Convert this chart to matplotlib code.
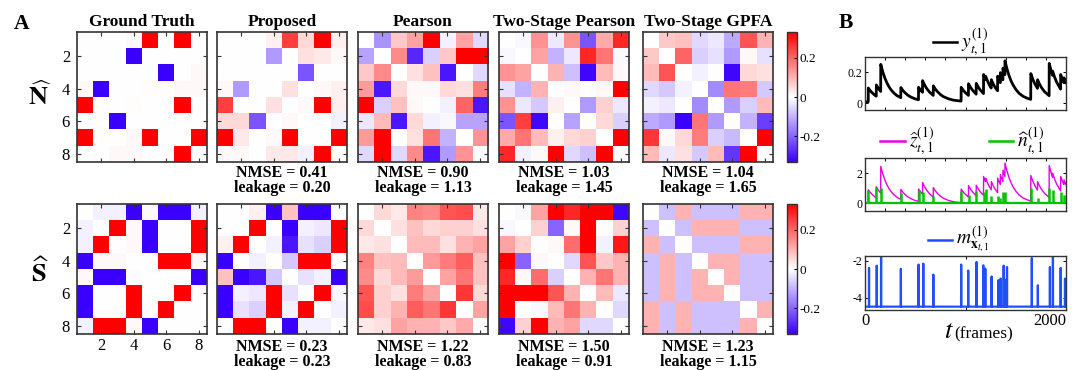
import numpy as np
import matplotlib.pyplot as plt
from matplotlib.colors import LinearSegmentedColormap
from matplotlib.lines import Line2D

plt.rcParams['font.family'] = ['Liberation Serif', 'DejaVu Serif']
plt.rcParams['mathtext.fontset'] = 'stix'
plt.rcParams['axes.unicode_minus'] = False

# saturated entries (beyond the colour limit)
R, B = 0.4, -0.4

titles = ['Ground Truth', 'Proposed', 'Pearson', 'Two-Stage Pearson', 'Two-Stage GPFA']
nmse_N = [None, 0.41, 0.90, 1.03, 1.04]
leak_N = [None, 0.20, 1.13, 1.45, 1.65]
nmse_S = [None, 0.23, 1.22, 1.50, 1.23]
leak_S = [None, 0.23, 0.83, 0.91, 1.15]

N_truth = [
    [0, 0, 0, 0.01, R, 0, R, 0],
    [0, 0, 0, B, 0, 0, 0, 0],
    [0, 0, 0, 0, 0, B, 0, 0.01],
    [0.01, B, 0, 0, 0.005, 0, 0.01, 0.01],
    [R, 0, 0, 0.005, 0, 0, R, 0],
    [0, 0, B, 0, 0, 0, 0, 0],
    [R, 0, 0, 0.01, R, 0, 0, R],
    [0, 0, 0.01, 0.01, 0, 0, R, 0],
]
N_prop = [
    [0, 0, 0, 0.02, 0.25, 0.05, R, 0.02],
    [0, 0, 0, -0.13, 0, 0.04, 0.03, 0.01],
    [0, 0, 0, 0, 0, -0.22, 0, 0],
    [0.01, -0.13, 0, 0, 0.04, 0, 0.01, 0.02],
    [0.25, 0, 0, 0.04, 0, 0.01, R, 0.02],
    [0.05, 0.05, -0.22, 0, 0.01, 0, 0, -0.02],
    [R, 0.03, 0, 0.01, R, 0, 0, R],
    [0.01, 0.01, 0, 0.03, 0.03, -0.02, R, 0],
]
N_pear = [
    [0, -0.14, 0.07, 0.12, R, -0.02, 0.12, -0.05],
    [-0.12, 0, 0.15, -0.28, -0.06, 0.07, R, R],
    [0.07, 0.15, 0, 0.04, 0.08, -0.3, 0, -0.05],
    [0.13, -0.3, 0.05, 0.01, 0.01, 0.05, 0.04, 0.17],
    [R, -0.06, 0.08, 0.01, 0, -0.02, 0.2, -0.3],
    [-0.03, 0.09, -0.3, 0.05, -0.02, -0.01, -0.12, -0.12],
    [0.13, R, 0, 0.04, 0.18, -0.1, 0, 0.14],
    [-0.05, R, -0.05, 0.15, -0.3, -0.13, 0.14, 0],
]
N_tsp = [
    [0, -0.01, 0.14, -0.03, 0.14, -0.22, 0.11, 0.28],
    [-0.01, 0, 0.12, -0.1, -0.03, 0.28, 0.18, -0.01],
    [0.14, 0.12, 0, 0.1, -0.08, -0.32, 0.09, 0.01],
    [-0.04, -0.1, 0.1, 0, 0.01, 0, 0.01, R],
    [0.14, -0.03, -0.07, 0.02, 0, -0.13, 0.06, -0.03],
    [-0.22, 0.25, -0.32, 0, -0.12, 0, 0.05, -0.06],
    [0.11, 0.18, 0.09, 0.02, 0.05, 0.06, 0, R],
    [0.28, -0.02, 0.01, R, -0.05, -0.08, R, 0],
]
N_gpfa = [
    [0, 0.07, 0.08, -0.05, -0.03, -0.11, 0.22, 0.1],
    [0.07, 0, 0.2, -0.06, -0.04, -0.13, 0.01, -0.04],
    [0.09, 0.22, 0, -0.02, 0, -0.32, 0.05, 0.04],
    [-0.05, -0.07, -0.02, 0, -0.15, 0.18, 0.17, -0.07],
    [-0.02, -0.03, 0, -0.15, 0, -0.13, -0.06, 0.09],
    [-0.11, -0.13, -0.33, 0.18, -0.13, 0, -0.1, -0.25],
    [0.26, 0.01, 0.05, 0.17, -0.06, -0.09, 0, R],
    [0.09, -0.03, 0.04, -0.07, 0.09, -0.26, R, 0],
]

S_truth = [
    [0, -0.02, -0.02, B, 0.01, B, B, -0.02],
    [-0.02, 0, R, 0.01, B, 0, 0, R],
    [-0.02, R, 0, 0.01, B, 0, 0, R],
    [B, 0.01, 0.01, 0, 0, R, R, 0.01],
    [0.01, B, B, -0.005, 0, 0, 0, B],
    [B, 0, 0, R, 0, 0, R, 0],
    [B, 0, 0, R, 0, R, 0, 0],
    [-0.02, R, R, 0.01, B, 0, 0, 0],
]
S_prop = [
    [0, 0, 0.02, B, 0.08, B, B, 0],
    [0, 0, R, 0, B, -0.02, -0.03, R],
    [0.02, R, 0, -0.02, -0.3, -0.04, -0.06, R],
    [B, 0, -0.02, 0, -0.07, R, R, 0],
    [0.08, B, -0.3, -0.07, 0, -0.04, -0.02, B],
    [B, -0.02, -0.03, R, -0.04, 0, R, -0.01],
    [B, -0.04, -0.06, R, -0.02, R, 0, -0.02],
    [0, R, R, 0, B, -0.02, -0.02, 0],
]
S_pear = [
    [0, 0.05, 0.03, 0.16, 0.15, 0.22, 0.23, 0.03],
    [0.05, 0, 0.04, 0.08, 0.05, 0.06, 0.06, 0.04],
    [0.03, 0.04, 0, 0.09, 0.09, 0.04, 0.1, 0.12],
    [0.16, 0.08, 0.09, 0, 0.13, 0.17, 0.21, 0.08],
    [0.15, 0.05, 0.09, 0.13, 0, 0.12, 0.18, 0.08],
    [0.22, 0.06, 0.04, 0.17, 0.12, 0, 0.26, 0.05],
    [0.23, 0.06, 0.1, 0.21, 0.18, 0.26, 0, 0.12],
    [0.03, 0.04, 0.12, 0.1, 0.1, 0.07, 0.11, 0],
]
S_tsp = [
    [0, -0.01, 0.12, R, 0.28, R, R, -0.32],
    [-0.01, 0, 0.06, -0.2, 0.01, R, 0, 0.06],
    [0.12, 0.06, 0, 0.01, 0.19, R, -0.02, 0.3],
    [R, -0.2, 0.01, 0, -0.05, 0.22, 0.07, 0.1],
    [0.28, 0.01, 0.19, -0.06, 0, 0.1, 0.18, 0.1],
    [R, R, R, 0.22, 0.1, 0, 0.09, -0.03],
    [R, 0, -0.01, 0.09, 0.18, 0.1, 0, -0.05],
    [-0.32, 0.06, R, 0.1, 0.12, -0.05, -0.05, 0],
]
S_gpfa = [
    [0, -0.08, 0.1, -0.08, -0.08, -0.08, 0.1, 0.1],
    [-0.08, 0, -0.08, 0.1, 0.1, 0.1, -0.08, -0.08],
    [0.1, -0.08, 0, -0.08, -0.08, -0.08, 0.1, 0.1],
    [-0.08, 0.1, -0.08, 0, 0.1, 0.1, -0.08, -0.08],
    [-0.08, 0.1, -0.08, 0.1, 0, 0.1, -0.08, -0.08],
    [-0.08, 0.1, -0.08, 0.1, 0.1, 0, -0.08, -0.08],
    [0.1, -0.08, 0.1, -0.08, -0.08, -0.08, 0, 0.1],
    [0.1, -0.08, 0.1, -0.08, -0.08, -0.08, 0.1, 0],
]

# neuron 1 traces (frames / values)
trace_t = [0, 32, 33, 53, 73, 93, 112, 113, 133, 156, 157, 177, 197, 217, 237, 257,
           287, 317, 356, 357, 377, 397, 427, 457, 497, 532, 533, 553, 572, 573, 593,
           613, 643, 679, 680, 700, 720, 750, 780, 830, 880, 956, 957, 977, 997, 1029,
           1030, 1050, 1070, 1106, 1107, 1127, 1147, 1179, 1180, 1199, 1200, 1220, 1240,
           1256, 1257, 1277, 1297, 1319, 1320, 1346, 1347, 1372, 1373, 1392, 1393, 1413,
           1433, 1453, 1473, 1503, 1533, 1573, 1613, 1649, 1650, 1670, 1690, 1716, 1717,
           1737, 1757, 1787, 1832, 1833, 1853, 1866, 1867, 1887, 1907, 1946, 1947, 1967,
           1979, 1980, 2000]
z_vals = [0.0, 0.0, 0.9, 0.72, 0.58, 0.46, 0.37, 1.1, 0.88, 0.68, 2.44, 1.95, 1.56, 1.25,
          1.0, 0.8, 0.58, 0.41, 0.27, 0.93, 0.74, 0.6, 0.43, 0.31, 0.2, 0.14, 0.95, 0.76,
          0.62, 1.38, 1.1, 0.88, 0.63, 0.42, 1.04, 0.83, 0.67, 0.48, 0.34, 0.2, 0.11, 0.05,
          0.95, 0.76, 0.61, 0.42, 1.18, 0.94, 0.76, 0.50, 1.2, 0.96, 0.77, 0.54, 1.78, 1.45,
          1.67, 1.34, 1.07, 0.90, 1.44, 1.15, 0.92, 0.72, 1.67, 1.25, 1.9, 1.44, 2.2, 1.77,
          2.67, 2.14, 1.71, 1.37, 1.1, 0.79, 0.56, 0.36, 0.24, 0.16, 1.84, 1.47, 1.18, 0.88,
          1.44, 1.15, 0.92, 0.66, 0.40, 2.5, 2.0, 1.73, 2.0, 1.6, 1.28, 0.83, 1.78, 1.42,
          1.25, 1.56, 1.25]
y_vals = [0.008, 0.008, 0.098, 0.080, 0.066, 0.054, 0.045, 0.118, 0.096, 0.076, 0.252,
          0.203, 0.164, 0.133, 0.108, 0.088, 0.066, 0.049, 0.035, 0.101, 0.082, 0.068,
          0.051, 0.039, 0.028, 0.022, 0.103, 0.084, 0.070, 0.146, 0.118, 0.096, 0.071,
          0.050, 0.112, 0.091, 0.075, 0.056, 0.042, 0.028, 0.019, 0.013, 0.103, 0.084,
          0.069, 0.050, 0.126, 0.102, 0.084, 0.058, 0.128, 0.104, 0.085, 0.062, 0.186,
          0.153, 0.175, 0.142, 0.115, 0.098, 0.152, 0.123, 0.100, 0.080, 0.175, 0.133,
          0.198, 0.152, 0.228, 0.185, 0.275, 0.222, 0.179, 0.145, 0.118, 0.087, 0.064,
          0.044, 0.032, 0.024, 0.192, 0.155, 0.126, 0.096, 0.152, 0.123, 0.100, 0.074,
          0.048, 0.258, 0.208, 0.181, 0.208, 0.168, 0.136, 0.091, 0.186, 0.150, 0.133,
          0.164, 0.133]

spike_t = [33, 113, 157, 357, 533, 573, 680, 957, 1030, 1107, 1180, 1200, 1257, 1320,
           1347, 1373, 1393, 1650, 1717, 1833, 1867, 1947, 1980]
spike_n = [0.89, 1.11, 1.04, 0.67, 0.89, 0.78, 0.51, 0.82, 0.56, 0.82, 0.78, 0.96, 0.51,
           0.51, 0.38, 0.78, 0.78, 1.0, 0.33, 1.0, 0.89, 0.78, 0.56]

m_t = [40, 117, 160, 357, 533, 580, 680, 957, 1027, 1110, 1177, 1197, 1260, 1327, 1350,
       1380, 1397, 1413, 1660, 1720, 1840, 1870, 1947, 1990]
m_peak = [-2.39, -2.27, -1.77, -2.44, -2.21, -2.16, -2.75, -2.21, -2.53, -2.07, -2.25,
          -2.43, -2.85, -3.05, -2.96, -2.27, -3.03, -2.34, -1.86, -3.32, -2.34, -1.77,
          -2.39, -2.96]
m_base = -4.47

W, H = 1081, 370


def box(x0, y0, x1, y1):
    return [x0 / W, 1 - y1 / H, (x1 - x0) / W, (y1 - y0) / H]


def fx(x):
    return x / W


def fy(y):
    return 1 - y / H


fig = plt.figure(figsize=(W / 100, H / 100), dpi=100)

cmap = LinearSegmentedColormap.from_list('blue_white_red', ['#3a00ff', '#ffffff', '#ff0000'])
clim = 0.33
frame_col = '#333333'

col_x = [77, 217, 358, 499, 643]
row_y = [32, 204]
mats = [[N_truth, N_prop, N_pear, N_tsp, N_gpfa],
        [S_truth, S_prop, S_pear, S_tsp, S_gpfa]]
stats = [(nmse_N, leak_N), (nmse_S, leak_S)]
stat_top = [165, 339]

for r in range(2):
    for c in range(5):
        x0, y0 = col_x[c], row_y[r]
        ax = fig.add_axes(box(x0, y0, x0 + 130, y0 + 130))
        im = ax.imshow(np.array(mats[r][c]), cmap=cmap, vmin=-clim, vmax=clim,
                       extent=(0.5, 8.5, 8.5, 0.5), aspect='auto', interpolation='nearest')
        ax.set_xticks([2, 4, 6, 8])
        ax.set_yticks([2, 4, 6, 8])
        ax.tick_params(direction='in', top=True, right=True, length=3, width=0.8,
                       labelsize=12, pad=3, colors=frame_col, labelcolor='k')
        ax.tick_params(axis='y', pad=5)
        if c > 0:
            ax.set_yticklabels([])
        if not (r == 1 and c == 0):
            ax.set_xticklabels([])
        for s in ax.spines.values():
            s.set_color(frame_col)
            s.set_linewidth(1.2)
        if r == 0:
            fig.text(fx(x0 + 65), fy(26), titles[c], ha='center', va='baseline',
                     fontsize=12.5, fontweight='bold')
        nm, lk = stats[r]
        if nm[c] is not None:
            fig.text(fx(x0 + 65), fy(stat_top[r]),
                     f'NMSE = {nm[c]:.2f}\nleakage = {lk[c]:.2f}',
                     ha='center', va='top', ma='center', linespacing=0.92,
                     fontsize=11.5, fontweight='bold')
    cax = fig.add_axes(box(787, row_y[r], 797, row_y[r] + 130))
    cb = fig.colorbar(im, cax=cax, ticks=[-0.2, 0, 0.2])
    cb.set_ticklabels(['-0.2', '0', '0.2'])
    cb.ax.tick_params(direction='in', length=2.5, width=0.8, labelsize=9.5, pad=2)
    cb.outline.set_edgecolor(frame_col)
    cb.outline.set_linewidth(1.0)

fig.text(fx(40), fy(96), r'$\widehat{\mathbf{N}}$', fontsize=19, ha='center', va='center')
fig.text(fx(40), fy(272), r'$\widehat{\mathbf{S}}$', fontsize=19, ha='center', va='center')
fig.text(fx(14), fy(29), 'A', fontsize=15.5, fontweight='bold', va='baseline')
fig.text(fx(839), fy(28), 'B', fontsize=15.5, fontweight='bold', va='baseline')

# panel B: observed fluorescence, estimated calcium / spikes, and m
black, magenta, green, blue = 'k', '#e800e8', '#00c400', '#1f4fff'


def style_trace_axes(ax):
    ax.set_xlim(0, 2000)
    ax.set_xticks(range(0, 2001, 200))
    ax.set_xticklabels([])
    ax.tick_params(direction='in', top=True, right=True, length=2.5, width=0.7,
                   labelsize=8.5, pad=2)
    for s in ax.spines.values():
        s.set_color(frame_col)
        s.set_linewidth(1.0)


ax_y = fig.add_axes(box(865, 57, 1066, 110))
ax_y.plot(trace_t, y_vals, color=black, lw=2.0)
style_trace_axes(ax_y)
ax_y.set_ylim(-0.045, 0.30)
ax_y.set_yticks([0, 0.2])
ax_y.set_yticklabels(['0', '0.2'])

ax_z = fig.add_axes(box(865, 158, 1066, 211))
ax_z.plot(trace_t, z_vals, color=magenta, lw=1.0)
ax_z.axhline(0, color=green, lw=1.6)
ax_z.vlines(spike_t, 0, spike_n, color=green, lw=1.8)
style_trace_axes(ax_z)
ax_z.set_ylim(-0.5, 3.0)
ax_z.set_yticks([0, 2])

m_x, m_y = [0], [m_base]
for t, p in zip(m_t, m_peak):
    m_x += [t - 1, t, t + 1]
    m_y += [m_base, p, m_base]
m_x.append(2000)
m_y.append(m_base)

ax_m = fig.add_axes(box(865, 256, 1066, 310))
ax_m.plot(m_x, m_y, color=blue, lw=1.6)
style_trace_axes(ax_m)
ax_m.set_ylim(-4.65, -1.75)
ax_m.set_yticks([-4, -2])
ax_m.set_xticks([0, 1000, 2000])
ax_m.set_xticklabels(['0', '', '2000'], fontsize=12)
ax_m.get_xticklabels()[2].set_horizontalalignment('right')

fig.text(fx(949), fy(338), r'$t$', fontsize=19, ha='center', va='baseline')
fig.text(fx(954), fy(338), '(frames)', fontsize=12.5, ha='left', va='baseline')

# legend entries above each trace
legend_items = [
    (933, 957, 42, black, r'$y_{t,1}^{(1)}$'),
    (880, 905, 141, magenta, r'$\widehat{z}_{t,1}^{(1)}$'),
    (989, 1013, 141, green, r'$\widehat{n}_{t,1}^{(1)}$'),
    (928, 952, 240, blue, r'$m_{\mathbf{x}_{t,1}}^{(1)}$'),
]
for x0, x1, yy, col, lab in legend_items:
    fig.add_artist(Line2D([fx(x0), fx(x1)], [fy(yy), fy(yy)], color=col, lw=1.8))
    fig.text(fx(x1 + 4), fy(yy), lab, fontsize=14, ha='left', va='center')

fig.savefig('out.png', dpi=100)
